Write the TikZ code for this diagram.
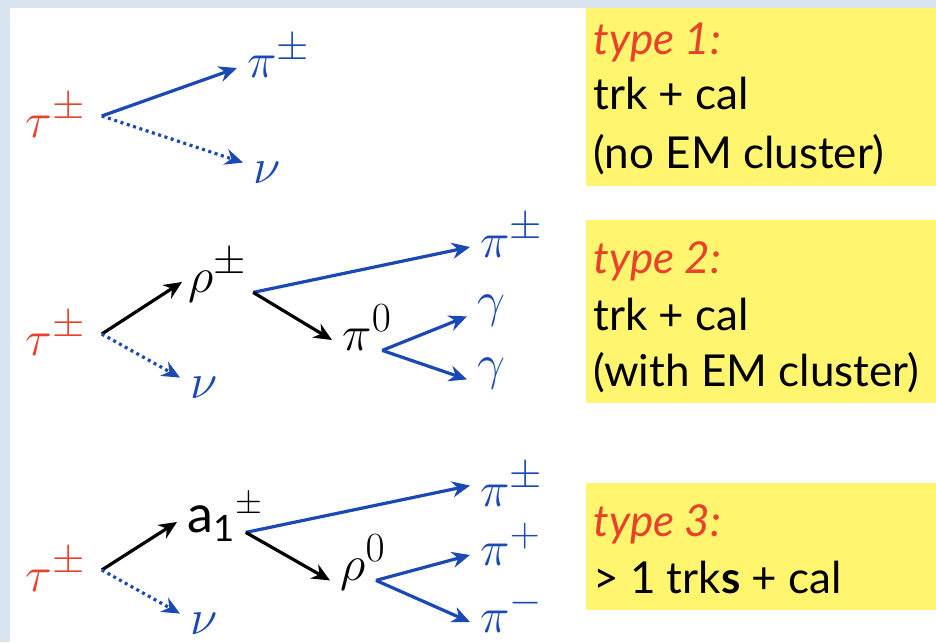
\documentclass[tikz,border=0pt]{standalone}
\usepackage{fontspec}
\setmainfont{Lato}
\setsansfont{Lato}
\usetikzlibrary{arrows.meta}
\definecolor{taured}{RGB}{232,66,42}
\definecolor{decblue}{RGB}{26,72,180}
\definecolor{boxyellow}{RGB}{255,245,110}
\definecolor{slide}{RGB}{218,227,240}
\tikzset{
  ptl/.style={font=\fontsize{30}{34}\selectfont,text height=10pt,text depth=0pt,inner xsep=5pt,inner ysep=0pt,anchor=base west},
  mother/.style={ptl,text=taured,text height=21pt,inner xsep=8pt},
  hadr/.style={->,line width=1.6pt,decblue},
  nutr/.style={->,line width=1.6pt,decblue,dash pattern=on 1.5pt off 1.8pt},
  resn/.style={->,line width=1.6pt,black},
  boxline/.style={font=\fontsize{22}{26}\selectfont,anchor=base west,inner sep=0pt}
}

\begin{document}
\begin{tikzpicture}[x=0.5pt,y=-0.5pt,>={Stealth[length=9pt,width=8pt]}]
\useasboundingbox (0,0) rectangle (936,642);
\fill[slide] (0,0) rectangle (936,642);
\fill[white] (10,8) rectangle (936,642);
% yellow boxes
\fill[boxyellow] (586,8) rectangle (936,186);
\fill[boxyellow] (586,220) rectangle (936,403);
\fill[boxyellow] (586,483) rectangle (936,610);
\node[boxline,text=taured] (t1a) at (593,55) {\itshape type 1:};
\node[boxline] (t1b) at (593,110) {trk + cal};
\node[boxline] (t1c) at (593,168) {(no EM cluster)};
\node[boxline,text=taured] (t2a) at (593,273) {\itshape type 2:};
\node[boxline] (t2b) at (593,330) {trk + cal};
\node[boxline] (t2c) at (593,386) {(with EM cluster)};
\node[boxline,text=taured] (t3a) at (593,536) {\itshape type 3:};
\node[boxline] (t3b) at (593,593) {> 1 trk\textbf{s} + cal};

% type 1
\node[mother] (tau1) at (9,137) {$\tau^\pm$};
\node[ptl,text=decblue] (pi1) at (237,78) {$\pi^\pm$};
\node[ptl,text=decblue] (nu1) at (243,183) {$\nu$};
\draw[hadr] (tau1.east) -- (pi1.west);
\draw[nutr] (tau1.east) -- (nu1.north west);

% type 2
\node[mother] (tau2) at (9,355) {$\tau^\pm$};
\node[ptl,inner xsep=3pt] (rho1) at (182,292) {$\rho^\pm$};
\node[ptl,text=decblue] (nu2) at (180,398) {$\nu$};
\node[ptl,text=decblue] (pi2) at (470,257) {$\pi^\pm$};
\node[ptl] (pi0) at (332,350) {$\pi\rlap{$^0$}$};
\node[ptl,text=decblue] (gam1) at (467,316) {$\gamma$};
\node[ptl,text=decblue] (gam2) at (467,379) {$\gamma$};
\draw[resn] (tau2.east) -- (rho1.west);
\draw[nutr] (tau2.east) -- (nu2.north west);
\draw[hadr] (rho1.south east) -- (pi2.west);
\draw[resn] (rho1.south east) -- (pi0.west);
\draw[hadr] (pi0.south east) -- (gam1.south west);
\draw[hadr] (pi0.south east) -- (gam2.south west);

% type 3
\node[mother] (tau3) at (9,591) {$\tau^\pm$};
\node[ptl,font=\fontsize{26}{30}\selectfont] (a1) at (177,532) {a$_{\mathsf{1}}\rlap{$^{\pm}$}$};
\node[ptl,text=decblue] (nu3) at (180,634) {$\nu$};
\node[ptl,text=decblue] (pi3) at (470,506) {$\pi^\pm$};
\node[ptl] (rho0) at (330,580) {$\rho\rlap{$^0$}$};
\node[ptl,text=decblue] (pip) at (470,565) {$\pi^+$};
\node[ptl,text=decblue] (pim) at (470,632) {$\pi^-$};
\draw[resn] (tau3.east) -- (a1.west);
\draw[nutr] (tau3.east) -- (nu3.north west);
\draw[hadr] (a1.south east) -- (pi3.north west);
\draw[resn] (a1.south east) -- (rho0.south west);
\draw[hadr] (rho0.south east) -- (pip.west);
\draw[hadr] (rho0.south east) -- (pim.west);
\end{tikzpicture}
\end{document}
